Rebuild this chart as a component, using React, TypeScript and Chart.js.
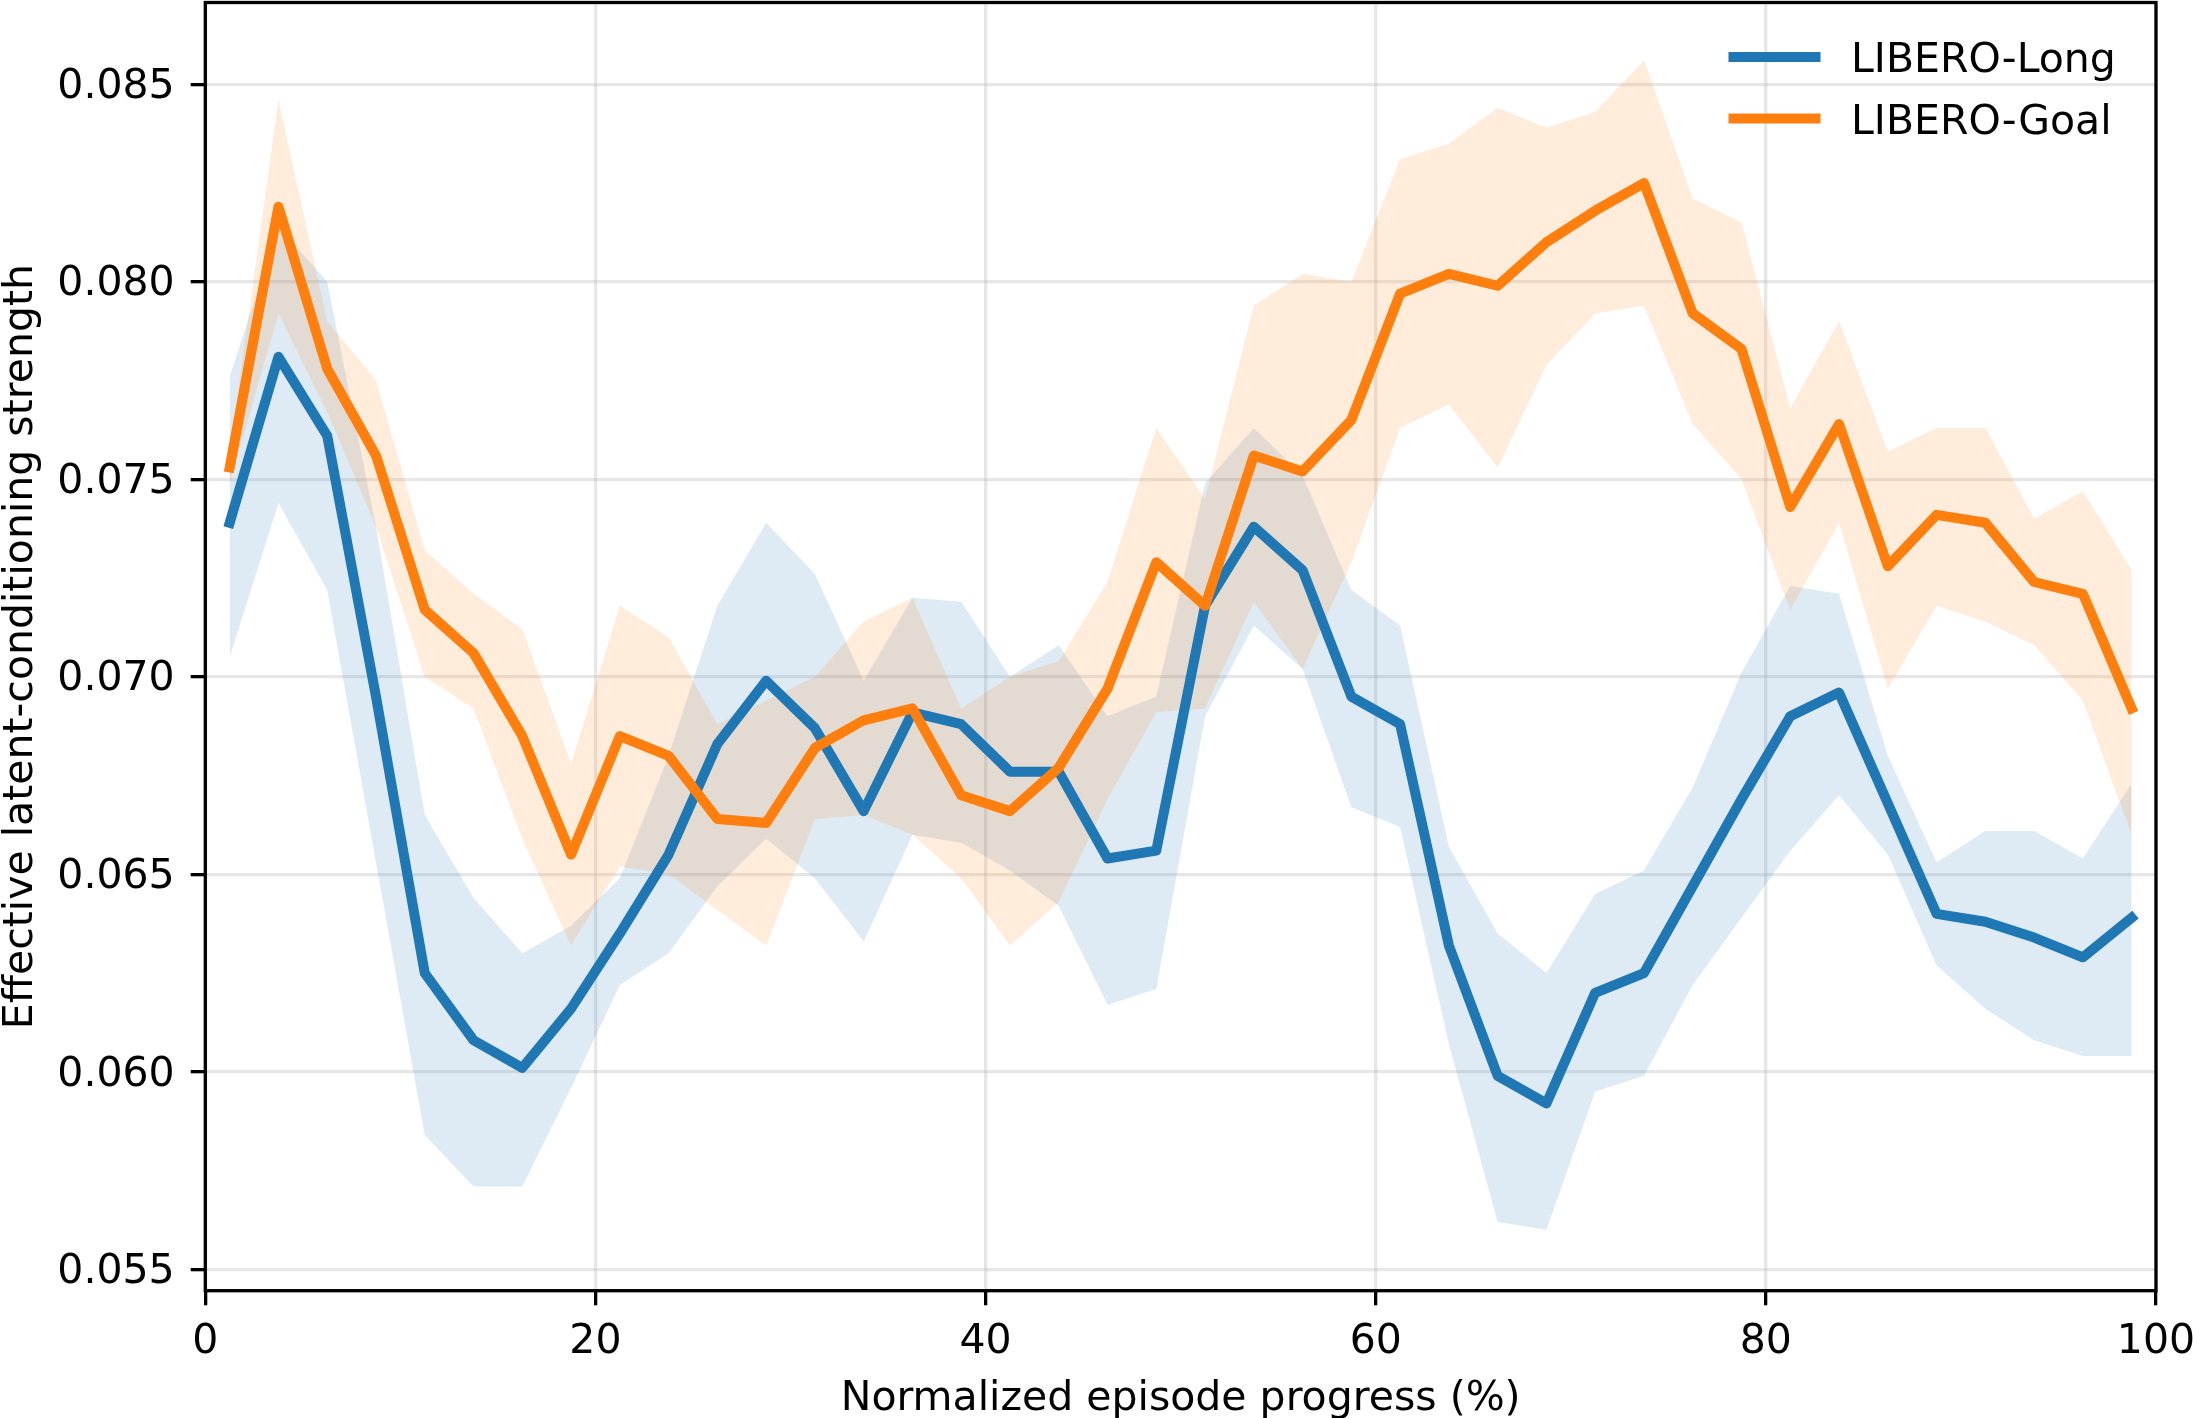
import React, { useEffect, useRef } from 'react';
import { Chart, registerables } from 'chart.js';

Chart.register(...registerables);

// Normalized episode progress (%) — bin centres
const progress = [
  1.25, 3.75, 6.25, 8.75, 11.25, 13.75, 16.25, 18.75, 21.25, 23.75,
  26.25, 28.75, 31.25, 33.75, 36.25, 38.75, 41.25, 43.75, 46.25, 48.75,
  51.25, 53.75, 56.25, 58.75, 61.25, 63.75, 66.25, 68.75, 71.25, 73.75,
  76.25, 78.75, 81.25, 83.75, 86.25, 88.75, 91.25, 93.75, 96.25, 98.75,
];

const seriesNames = ['LIBERO-Long', 'LIBERO-Goal'];

const longMean = [
  0.0739, 0.0781, 0.0761, 0.0695, 0.0625, 0.0608, 0.0601, 0.0616, 0.0635, 0.0655,
  0.0683, 0.0699, 0.0687, 0.0666, 0.0691, 0.0688, 0.0676, 0.0676, 0.0654, 0.0656,
  0.0718, 0.0738, 0.0727, 0.0695, 0.0688, 0.0632, 0.0599, 0.0592, 0.0620, 0.0625,
  0.0647, 0.0669, 0.0690, 0.0696, 0.0668, 0.0640, 0.0638, 0.0634, 0.0629, 0.0639,
];
const longLower = [
  0.0705, 0.0744, 0.0722, 0.0653, 0.0584, 0.0571, 0.0571, 0.0596, 0.0622, 0.0630,
  0.0647, 0.0659, 0.0649, 0.0633, 0.0660, 0.0658, 0.0651, 0.0642, 0.0617, 0.0621,
  0.0690, 0.0713, 0.0702, 0.0667, 0.0662, 0.0607, 0.0562, 0.0560, 0.0595, 0.0599,
  0.0622, 0.0639, 0.0656, 0.0670, 0.0655, 0.0627, 0.0616, 0.0608, 0.0604, 0.0604,
];
const longUpper = [
  0.0776, 0.0814, 0.0800, 0.0738, 0.0665, 0.0644, 0.0630, 0.0637, 0.0649, 0.0680,
  0.0718, 0.0739, 0.0726, 0.0699, 0.0720, 0.0719, 0.0700, 0.0708, 0.0690, 0.0695,
  0.0749, 0.0763, 0.0751, 0.0722, 0.0713, 0.0657, 0.0635, 0.0625, 0.0645, 0.0651,
  0.0672, 0.0701, 0.0723, 0.0721, 0.0680, 0.0653, 0.0661, 0.0661, 0.0654, 0.0673,
];

const goalMean = [
  0.0753, 0.0819, 0.0778, 0.0756, 0.0717, 0.0706, 0.0685, 0.0655, 0.0685, 0.0680,
  0.0664, 0.0663, 0.0682, 0.0689, 0.0692, 0.0670, 0.0666, 0.0677, 0.0697, 0.0729,
  0.0718, 0.0756, 0.0752, 0.0765, 0.0797, 0.0802, 0.0799, 0.0810, 0.0818, 0.0825,
  0.0792, 0.0783, 0.0743, 0.0764, 0.0728, 0.0741, 0.0739, 0.0724, 0.0721, 0.0692,
];
const goalLower = [
  0.0749, 0.0792, 0.0767, 0.0738, 0.0700, 0.0692, 0.0659, 0.0632, 0.0652, 0.0650,
  0.0641, 0.0632, 0.0664, 0.0665, 0.0660, 0.0649, 0.0632, 0.0643, 0.0669, 0.0691,
  0.0692, 0.0719, 0.0702, 0.0729, 0.0763, 0.0769, 0.0753, 0.0779, 0.0792, 0.0794,
  0.0764, 0.0750, 0.0717, 0.0739, 0.0697, 0.0718, 0.0714, 0.0708, 0.0694, 0.0660,
];
const goalUpper = [
  0.0757, 0.0846, 0.0790, 0.0775, 0.0732, 0.0721, 0.0712, 0.0678, 0.0718, 0.0710,
  0.0688, 0.0694, 0.0700, 0.0714, 0.0720, 0.0692, 0.0700, 0.0704, 0.0724, 0.0763,
  0.0745, 0.0794, 0.0802, 0.0800, 0.0831, 0.0835, 0.0844, 0.0839, 0.0843, 0.0856,
  0.0821, 0.0815, 0.0768, 0.0790, 0.0757, 0.0763, 0.0763, 0.0740, 0.0747, 0.0727,
];

const xTicks = [0, 20, 40, 60, 80, 100];
const yTicks = [0.055, 0.06, 0.065, 0.07, 0.075, 0.08, 0.085];

const X_TITLE = 'Normalized episode progress (%)';
const Y_TITLE = 'Effective latent-conditioning strength';

const BLUE = '#1f77b4';
const ORANGE = '#ff7f0e';
const BLUE_FILL = 'rgba(31,119,180,0.15)';
const ORANGE_FILL = 'rgba(255,127,14,0.15)';
const GRID = 'rgba(176,176,176,0.3)';
const FONT = '"DejaVu Sans", "Liberation Sans", sans-serif';
const FS = 41;
const LINE_W = 10;

const pts = (ys: number[]) => progress.map((x, i) => ({ x, y: ys[i] }));

const spinesPlugin = {
  id: 'spines',
  afterDraw(chart: any) {
    const { ctx, chartArea: a } = chart;
    ctx.save();
    ctx.strokeStyle = '#000';
    ctx.lineWidth = 3.3;
    ctx.lineJoin = 'miter';
    ctx.strokeRect(a.left, a.top, a.right - a.left, a.bottom - a.top);
    ctx.restore();
  },
};

const legendPlugin = {
  id: 'mplLegend',
  afterDraw(chart: any) {
    const { ctx, chartArea: a } = chart;
    const items = [
      { label: seriesNames[0], color: BLUE },
      { label: seriesNames[1], color: ORANGE },
    ];
    ctx.save();
    ctx.font = `${FS}px ${FONT}`;
    ctx.textAlign = 'left';
    ctx.textBaseline = 'alphabetic';
    items.forEach((it, i) => {
      const y = a.top + 54.5 + i * 61.5;
      ctx.strokeStyle = it.color;
      ctx.lineWidth = LINE_W;
      ctx.lineCap = 'butt';
      ctx.beginPath();
      ctx.moveTo(a.right - 427.5, y);
      ctx.lineTo(a.right - 335.5, y);
      ctx.stroke();
      ctx.fillStyle = '#000';
      ctx.fillText(it.label, a.right - 305, y + 15);
    });
    ctx.restore();
  },
};

export default function App() {
  const ref = useRef<HTMLCanvasElement | null>(null);

  useEffect(() => {
    if (!ref.current) return;
    const band = (data: number[], color: string, fill: any, order: number) => ({
      data: pts(data),
      borderWidth: 0,
      borderColor: 'rgba(0,0,0,0)',
      backgroundColor: color,
      pointRadius: 0,
      fill,
      order,
    });
    const line = (label: string, data: number[], color: string, order: number) => ({
      label,
      data: pts(data),
      borderColor: color,
      backgroundColor: color,
      borderWidth: LINE_W,
      borderJoinStyle: 'round',
      borderCapStyle: 'square',
      pointRadius: 0,
      fill: false,
      order,
    });

    const chart = new Chart(ref.current, {
      type: 'line',
      data: {
        datasets: [
          band(longLower, 'rgba(0,0,0,0)', false, 10),
          band(longUpper, BLUE_FILL, '-1', 9),
          band(goalLower, 'rgba(0,0,0,0)', false, 8),
          band(goalUpper, ORANGE_FILL, '-1', 7),
          line(seriesNames[0], longMean, BLUE, 2),
          line(seriesNames[1], goalMean, ORANGE, 1),
        ] as any,
      },
      options: {
        animation: false,
        responsive: false,
        devicePixelRatio: 1,
        layout: { padding: { left: 0, right: 37, top: 2.5, bottom: 0 } },
        plugins: {
          legend: { display: false },
          tooltip: { enabled: false },
        },
        elements: { line: { tension: 0 }, point: { radius: 0 } },
        scales: {
          x: {
            type: 'linear',
            min: 0,
            max: 100,
            afterBuildTicks: (s: any) => {
              s.ticks = xTicks.map((v) => ({ value: v }));
            },
            afterFit: (s: any) => {
              s.height = 127.3;
              s.paddingLeft = 0;
              s.paddingRight = 0;
            },
            border: { display: false },
            grid: {
              color: GRID,
              lineWidth: 3.3,
              drawTicks: true,
              tickLength: 14.6,
              tickWidth: 3.3,
              tickColor: '#000',
            },
            ticks: {
              color: '#000',
              font: { family: FONT, size: FS },
              padding: 12,
              maxRotation: 0,
              autoSkip: false,
              callback: (v: any) => String(v),
            },
            title: {
              display: true,
              text: X_TITLE,
              color: '#000',
              font: { family: FONT, size: FS, lineHeight: 1 },
              padding: { top: 0, bottom: -2 },
            },
          },
          y: {
            type: 'linear',
            min: 0.05446,
            max: 0.08707,
            afterBuildTicks: (s: any) => {
              s.ticks = yTicks.map((v) => ({ value: v }));
            },
            afterFit: (s: any) => {
              s.width = 205.3;
              s.paddingTop = 0;
              s.paddingBottom = 0;
            },
            border: { display: false },
            grid: {
              color: GRID,
              lineWidth: 3.3,
              drawTicks: true,
              tickLength: 14.6,
              tickWidth: 3.3,
              tickColor: '#000',
            },
            ticks: {
              color: '#000',
              font: { family: FONT, size: FS },
              padding: 16,
              labelOffset: 3,
              autoSkip: false,
              callback: (v: any) => Number(v).toFixed(3),
            },
            title: {
              display: true,
              text: Y_TITLE,
              color: '#000',
              font: { family: FONT, size: FS, lineHeight: 1 },
              padding: { top: 1, bottom: 0 },
            },
          },
        },
      } as any,
      plugins: [spinesPlugin, legendPlugin],
    });
    return () => chart.destroy();
  }, []);

  return (
    <div style={{ position: 'absolute', left: 0, top: 0, width: 2193, height: 1418, background: '#fff' }}>
      <canvas ref={ref} width={2193} height={1418} style={{ display: 'block' }} />
    </div>
  );
}
